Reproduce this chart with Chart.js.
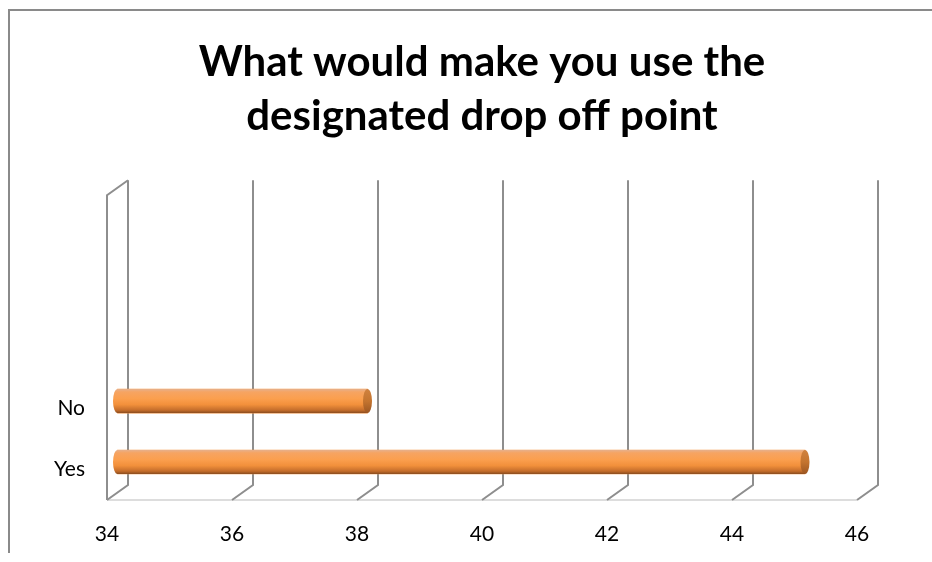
<!DOCTYPE html>
<html>
<head>
<meta charset="utf-8">
<script src="https://cdn.jsdelivr.net/npm/chart.js@4.4.1/dist/chart.umd.min.js"></script>
<style>
  html, body { margin: 0; padding: 0; background: #fff; }
  canvas { display: block; }
</style>
</head>
<body>
<canvas id="myChart" width="932" height="562"></canvas>
<script>
const titleLines = ["What would make you use the", "designated drop off point"];
// Excel order: first category at the bottom, blank rows above
const categories = ["Yes", "No", "", "", ""];
const counts = [45, 38, null, null, null];
const xMin = 34;
const xMax = 46;
const xStep = 2;

const DX = 21, DY = -15; // depth of the 3d box
const fontFamily = "Lato, 'Open Sans', sans-serif";

// walls, floor and frame of the 3d box
const box3d = {
  id: "box3d",
  beforeDraw(chart) {
    const { ctx, chartArea: a, scales: { x } } = chart;
    ctx.save();
    ctx.fillStyle = "#fff";
    ctx.fillRect(0, 0, chart.width, chart.height);

    // outer frame, only top and left edges are on screen
    ctx.strokeStyle = "#8a8a8a";
    ctx.lineWidth = 2;
    ctx.beginPath();
    ctx.moveTo(9, 553);
    ctx.lineTo(9, 10);
    ctx.lineTo(chart.width, 10);
    ctx.stroke();

    // front edge of the floor
    ctx.strokeStyle = "#d2d2d2";
    ctx.lineWidth = 1.5;
    ctx.beginPath();
    ctx.moveTo(a.left, a.bottom);
    ctx.lineTo(a.right, a.bottom);
    ctx.stroke();

    // gridlines on back wall + floor diagonals
    ctx.strokeStyle = "#8e8e8e";
    ctx.lineWidth = 2;
    x.ticks.forEach(t => {
      const px = x.getPixelForValue(t.value);
      ctx.beginPath();
      ctx.moveTo(px, a.bottom);
      ctx.lineTo(px + DX, a.bottom + DY);
      ctx.lineTo(px + DX, a.top + DY);
      ctx.stroke();
    });

    // left side wall
    ctx.beginPath();
    ctx.moveTo(a.left, a.bottom);
    ctx.lineTo(a.left, a.top);
    ctx.lineTo(a.left + DX, a.top + DY);
    ctx.stroke();
    ctx.restore();
  },
  // bars sit half way into the box
  beforeDatasetsDraw(chart) {
    chart.ctx.save();
    chart.ctx.translate(DX / 2, DY / 2);
  },
  afterDatasetsDraw(chart) {
    const ctx = chart.ctx;
    chart.getDatasetMeta(0).data.forEach((bar, i) => {
      if (counts[i] == null) return;
      const { x, y, base, height } = bar.getProps(["x", "y", "base", "height"], true);
      const top = y - height / 2;
      const ry = height / 2, rx = 4.5;

      const g = ctx.createLinearGradient(0, top, 0, top + height);
      g.addColorStop(0, "#e6b08c");
      g.addColorStop(0.12, "#f6a462");
      g.addColorStop(0.4, "#fb9f4e");
      g.addColorStop(0.65, "#f2903b");
      g.addColorStop(0.88, "#c46d2b");
      g.addColorStop(1, "#8a4c1e");

      ctx.fillStyle = g;
      ctx.beginPath();
      ctx.ellipse(base, y, rx, ry, 0, 0, Math.PI * 2);
      ctx.fill();
      ctx.fillRect(base, top, x - base, height);

      const cap = ctx.createLinearGradient(0, top, 0, top + height);
      cap.addColorStop(0, "#d0823f");
      cap.addColorStop(0.5, "#c4742f");
      cap.addColorStop(1, "#9c5622");
      ctx.fillStyle = cap;
      ctx.beginPath();
      ctx.ellipse(x, y, rx, ry, 0, 0, Math.PI * 2);
      ctx.fill();
    });
    ctx.restore();
  }
};

new Chart(document.getElementById("myChart"), {
  type: "bar",
  data: {
    labels: categories,
    datasets: [{
      data: counts,
      base: xMin,
      backgroundColor: "#f79646",
      borderWidth: 0,
      barThickness: 24,
      clip: false
    }]
  },
  options: {
    responsive: false,
    animation: false,
    indexAxis: "y",
    layout: { padding: { left: 0, right: 75, top: 0, bottom: 0 } },
    plugins: {
      legend: { display: false },
      tooltip: { enabled: false },
      title: {
        display: true,
        fullSize: false,
        text: titleLines,
        color: "#000",
        font: { family: fontFamily, size: 42, weight: "bold", lineHeight: 1.3 },
        padding: { top: 35, bottom: 51 }
      }
    },
    scales: {
      x: {
        min: xMin,
        max: xMax,
        ticks: { stepSize: xStep, padding: 22, color: "#000", font: { family: fontFamily, size: 21 } },
        grid: { display: false, drawTicks: false },
        border: { display: false },
        afterFit(s) { s.height = 62; }
      },
      y: {
        reverse: true,
        ticks: { padding: 22, color: "#000", font: { family: fontFamily, size: 21 } },
        grid: { display: false, drawTicks: false },
        border: { display: false },
        afterFit(s) { s.width = 107; }
      }
    }
  },
  plugins: [box3d]
});
</script>
</body>
</html>
